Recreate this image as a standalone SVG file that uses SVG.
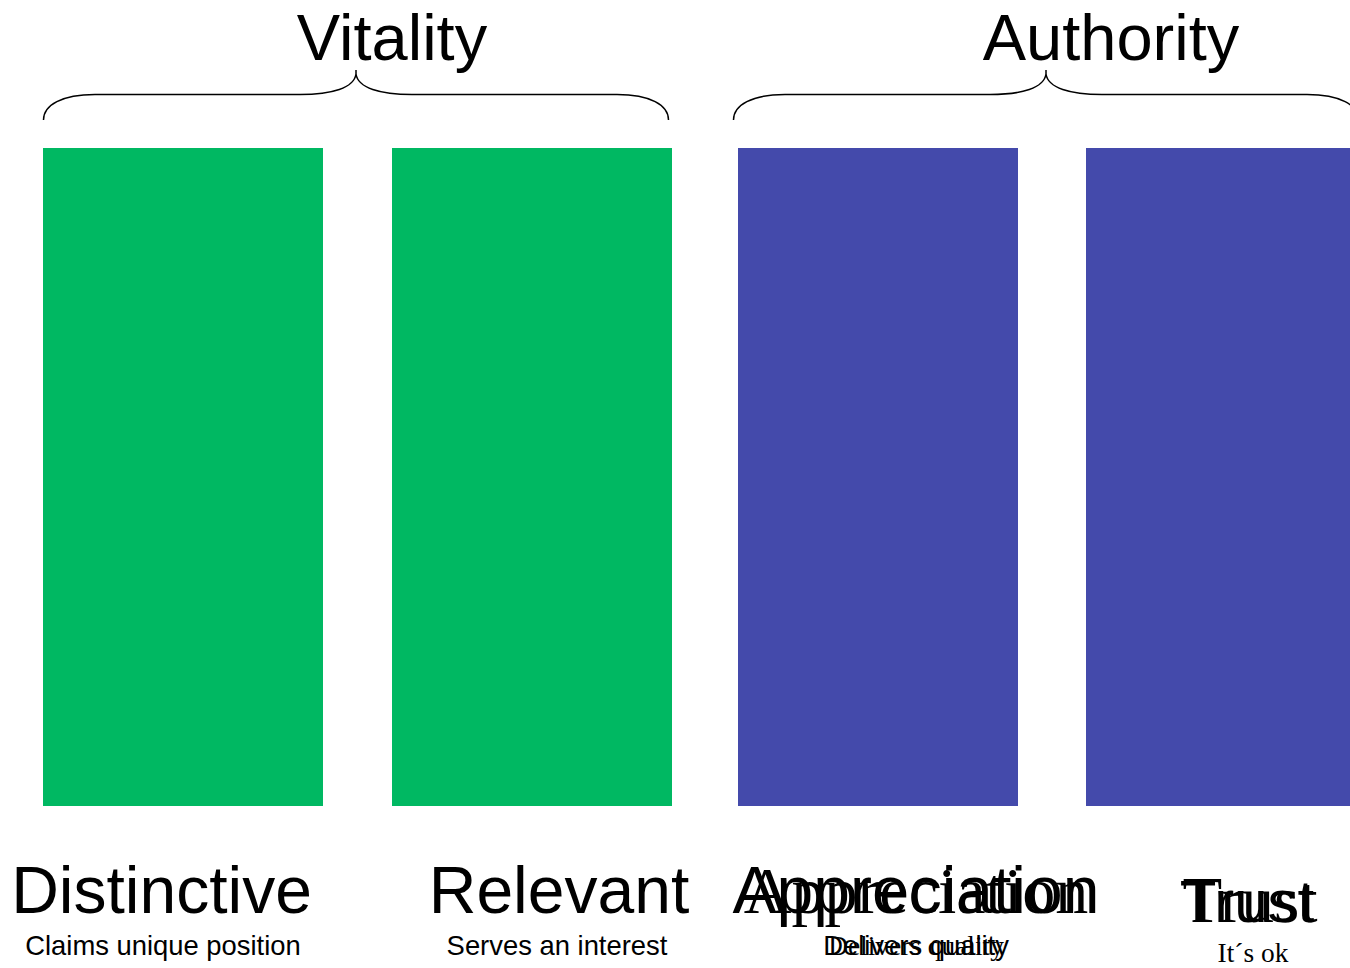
<svg xmlns="http://www.w3.org/2000/svg" width="1350" height="968" viewBox="0 0 1350 968">
  <style>
    .sans { font-family: "Liberation Sans", Arial, sans-serif; fill: #000; text-anchor: middle; }
    .serif { font-family: "Liberation Serif", "Times New Roman", serif; fill: #000; text-anchor: middle; }
    .big { font-size: 66px; }
    .small { font-size: 27.4px; }
    .brace { fill: none; stroke: #000; stroke-width: 1.5; }
    .green { fill: #00B862; }
    .blue { fill: #444AAB; }
  </style>
  <rect width="1350" height="968" fill="#fff"/>

  <!-- group headings with braces -->
  <g id="vitality">
    <text class="sans" font-size="65" x="392" y="60">Vitality</text>
  </g>
  <g id="authority">
    <text class="sans" font-size="65" x="1111" y="60">Authority</text>
  </g>

  <g id="connectors">
    <path class="brace" d="M43.5,120 C43.5,105 62,94.5 95,94.5 L300,94.5 C332,94.5 354,88 356,74 L356,70 M356,74 C358,88 380,94.5 412,94.5 L617,94.5 C650,94.5 668.5,105 668.5,120"/>
    <path class="brace" d="M733.5,120 C733.5,105 752,94.5 785,94.5 L990,94.5 C1022,94.5 1044,88 1046,74 L1046,70 M1046,74 C1048,88 1070,94.5 1102,94.5 L1307,94.5 C1340,94.5 1358.5,105 1358.5,120"/>
  </g>

  <!-- columns -->
  <g id="distinctive">
    <rect class="green" x="43" y="148" width="280" height="658"/>
    <text class="sans big" x="161.5" y="913">Distinctive</text>
    <text class="sans small" x="163" y="955">Claims unique position</text>
  </g>
  <g id="relevant">
    <rect class="green" x="392" y="148" width="280" height="658"/>
    <text class="sans big" x="559" y="913">Relevant</text>
    <text class="sans small" x="557" y="955">Serves an interest</text>
  </g>
  <g id="appreciation">
    <rect class="blue" x="738" y="148" width="280" height="658"/>
    <text class="sans big" x="916" y="913">Appreciation</text>
    <text class="serif big" x="916" y="913">Appreciation</text>
    <text class="sans small" x="916" y="955">Delivers quality</text>
    <text class="serif small" x="916" y="955">Delivers quality</text>
  </g>
  <g id="trust">
    <rect class="blue" x="1086" y="148" width="280" height="658"/>
    <text class="sans" x="1247" y="922" font-size="60">Trust</text>
    <text class="serif" x="1250" y="922" font-size="65">Trust</text>
    <text class="serif small" x="1253" y="962">It´s ok</text>
  </g>
</svg>
